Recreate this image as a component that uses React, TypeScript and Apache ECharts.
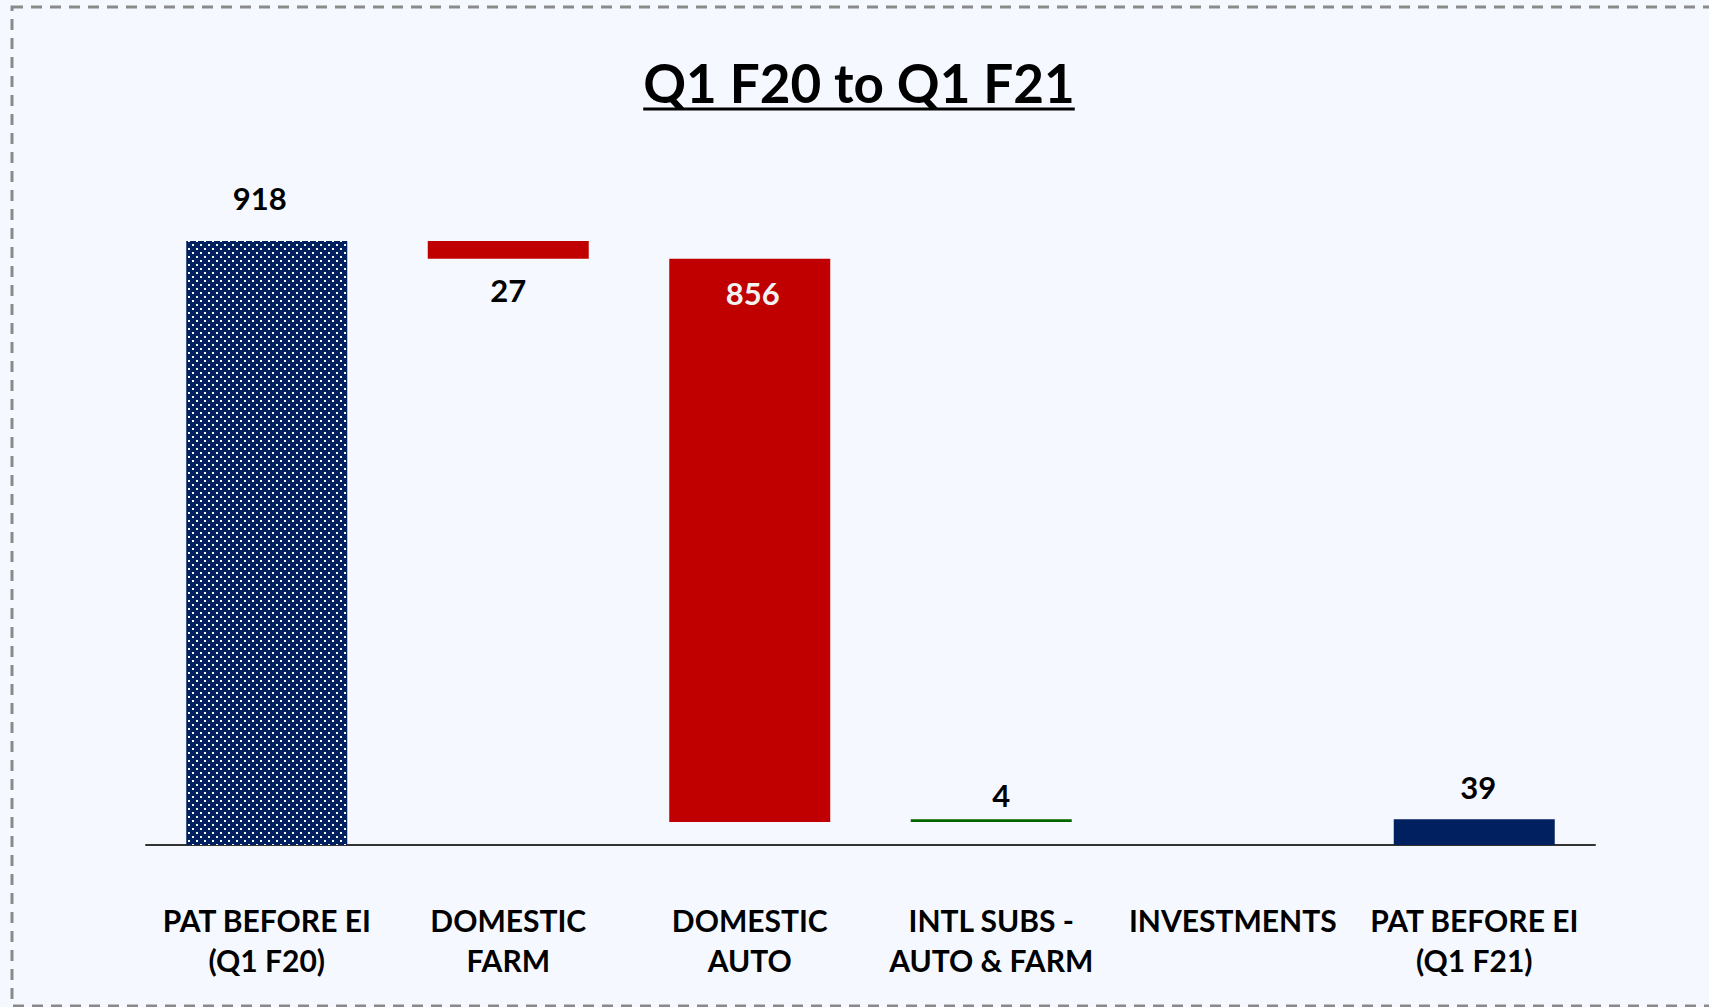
import React, { useEffect, useRef } from "react";
import * as echarts from "echarts";

const titleText = "Q1 F20 to Q1 F21";
const categories = [
  "PAT BEFORE EI\n(Q1 F20)",
  "DOMESTIC\nFARM",
  "DOMESTIC\nAUTO",
  "INTL SUBS -\nAUTO & FARM",
  "INVESTMENTS",
  "PAT BEFORE EI\n(Q1 F21)",
];
const changes = [918, -27, -856, 4, 0, 39];
const isTotal = [true, false, false, false, false, true];

const FONT = "Lato";
const NAVY = "#002060";
const RED = "#C00000";
const GREEN = "#006600";

export default function App() {
  const ref = useRef<HTMLDivElement>(null);
  useEffect(() => {
    if (!ref.current) return;
    const chart = echarts.init(ref.current, undefined, { renderer: "svg" });

    // waterfall computation
    const base: number[] = [];
    const vals: any[] = [];
    let running = 0;
    changes.forEach((d, i) => {
      let b = 0;
      let v = 0;
      if (isTotal[i]) {
        b = 0;
        v = d;
        running = d;
      } else if (d >= 0) {
        b = running;
        v = d;
        running += d;
      } else {
        b = running + d;
        v = -d;
        running += d;
      }
      base.push(b);
      let itemStyle: any;
      let label: any;
      if (i === 0) {
        itemStyle = {
          color: NAVY,
          decal: {
            symbol: "rect",
            symbolSize: 1,
            color: "#ffffff",
            dashArrayX: [
              [2, 6],
              [0, 4, 2, 2],
            ],
            dashArrayY: [2, 2],
            rotation: 0,
          },
        };
        label = { show: true, position: "top", distance: 27, color: "#000", offset: [-7, 0] };
      } else if (isTotal[i]) {
        itemStyle = { color: NAVY };
        label = { show: true, position: "top", distance: 17, color: "#000", offset: [4, 0] };
      } else if (d < 0) {
        itemStyle = { color: RED };
        if (v > 100) {
          label = { show: true, position: "insideTop", distance: 19, color: "#F2F2F2", offset: [3, 0] };
        } else {
          label = { show: true, position: "bottom", distance: 16, color: "#000" };
        }
      } else if (d > 0) {
        itemStyle = { color: GREEN };
        label = { show: true, position: "top", distance: 9, color: "#000", offset: [10, 0] };
      } else {
        itemStyle = { color: GREEN };
        label = { show: false };
      }
      vals.push({ value: v, itemStyle, label });
    });

    // measure title width for underline
    const TITLE_FONT = `bold 53px ${FONT}`;
    const cv = document.createElement("canvas");
    const ctx = cv.getContext("2d")!;
    ctx.font = TITLE_FONT;
    const tw = ctx.measureText(titleText).width;
    const tx = 859;

    chart.setOption({
      animation: false,
      backgroundColor: "#F5F9FF",
      grid: { left: 146, right: 114, top: 187, bottom: 162 },
      xAxis: {
        type: "category",
        data: categories,
        axisLine: { show: true, lineStyle: { color: "#333333", width: 2 } },
        axisTick: { show: false },
        axisLabel: {
          interval: 0,
          margin: 55,
          color: "#000",
          fontFamily: FONT,
          fontWeight: "bold",
          fontSize: 30,
          lineHeight: 40,
          align: "center",
        },
      },
      yAxis: {
        type: "value",
        min: 0,
        max: 1000,
        show: false,
        splitLine: { show: false },
      },
      series: [
        {
          type: "bar",
          stack: "wf",
          data: base,
          barWidth: 161,
          itemStyle: { color: "transparent" },
          emphasis: { disabled: true },
          silent: true,
        },
        {
          type: "bar",
          stack: "wf",
          data: vals,
          barWidth: 161,
          label: {
            fontFamily: FONT,
            fontWeight: "bold",
            fontSize: 31,
            formatter: "{c}",
          },
          z: 3,
        },
      ],
      graphic: [
        {
          type: "rect",
          shape: { x: 12, y: 7, width: 1720, height: 999 },
          style: { fill: "none", stroke: "#8a8a8a", lineWidth: 3, lineDash: [11, 8] },
          silent: true,
        },
        {
          type: "text",
          x: tx,
          y: 82,
          style: {
            text: titleText,
            font: TITLE_FONT,
            fill: "#000",
            textAlign: "center",
            textVerticalAlign: "middle",
          },
        },
        {
          type: "line",
          shape: { x1: tx - tw / 2, y1: 109, x2: tx + tw / 2, y2: 109 },
          style: { stroke: "#000", lineWidth: 3 },
        },
      ],
    });
    return () => chart.dispose();
  }, []);
  return (
    <div
      ref={ref}
      style={{ position: "fixed", left: 0, top: 0, width: 1709, height: 1007 }}
    />
  );
}
